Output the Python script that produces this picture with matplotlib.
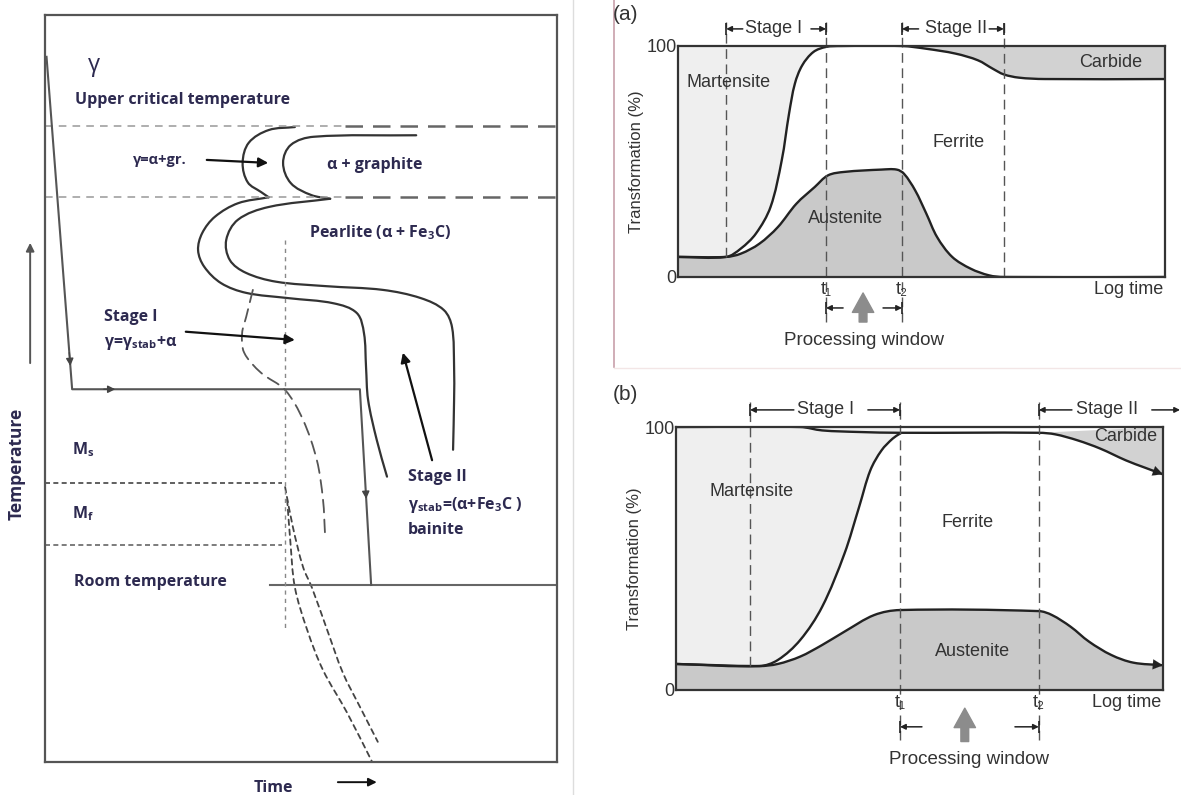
import numpy as np
import matplotlib
matplotlib.use('Agg')
import matplotlib.pyplot as plt
from matplotlib.lines import Line2D
from matplotlib.path import Path
from matplotlib.patches import PathPatch

plt.rcParams['mathtext.fontset'] = 'custom'
plt.rcParams['mathtext.bf'] = 'Open Sans:bold'
plt.rcParams['mathtext.rm'] = 'Open Sans'

# ---------------- left panel data (time 0..100, temperature 0..100) ----------------
T_upper = 85.1
T_eutectoid = 75.6
T_hold = 49.9
T_ms = 37.3
T_mf = 29.0
T_room = 23.7
t_ms_end = 46.3
t_room_start = 43.9
t_dash_split = 58.6

path_t = [0.3, 5.3, 61.5, 63.7]
path_T = [94.4, T_hold, T_hold, T_room]

# outer and inner C-curves; the nose of the graphite C meets the pearlite C in a cusp
outer_t = [48.8, 43.7, 39.8, 38.6, 39.6, 42.2, 43.7, 37.7, 33.2, 30.7, 29.9, 31.1,
           34.4, 39.3, 47.5, 56.4, 60.9, 62.3, 62.7, 63.1, 64.8, 66.8]
outer_T = [85.0, 84.6, 82.9, 80.2, 77.6, 76.3, 75.6, 74.8, 73.0, 70.8, 68.5, 66.3,
           64.1, 62.8, 62.1, 61.4, 60.1, 57.4, 52.9, 48.5, 43.1, 38.2]
inner_t = [72.5, 52.5, 48.0, 46.5, 48.0, 52.0, 55.7, 43.7, 37.7, 35.4, 36.1, 39.2,
           45.1, 54.9, 66.0, 73.4, 77.9, 79.5, 79.9, 79.9, 79.7]
inner_T = [83.9, 83.7, 82.6, 80.2, 77.5, 75.9, 75.4, 74.3, 72.6, 69.9, 67.2, 65.5,
           64.3, 63.7, 63.2, 62.1, 60.5, 58.2, 52.9, 48.5, 41.8]
cusp = 6
bain_t = [40.6, 39.3, 38.5, 38.9, 42.2, 46.9, 50.4, 53.1, 54.3, 54.7]
bain_T = [63.2, 59.6, 57.4, 54.8, 52.1, 49.8, 45.8, 40.4, 35.1, 30.4]
mart1_t = [47.3, 47.9, 48.8, 51.2, 54.3, 59.0, 63.9]
mart1_T = [35.1, 29.7, 23.4, 17.7, 12.3, 6.6, 0.0]
mart2_t = [46.9, 48.4, 50.4, 52.1, 55.1, 58.2, 61.5, 65.0]
mart2_T = [36.8, 31.5, 26.1, 23.4, 17.7, 11.9, 7.4, 2.7]
vdash_t = 46.9
vdash_T = [69.9, 17.7]

# ---------------- right panel (a) data ----------------
a_up_x = [0, 0.99, 1.29, 1.60, 1.90, 2.13, 2.28, 2.40, 2.55, 2.78, 3.04, 3.35,
          4.60, 5.10, 5.70, 6.16, 6.46, 6.69, 7.0, 7.53, 10]
a_up_y = [8.7, 8.7, 12.3, 18.8, 30.3, 50.5, 70.7, 83.7, 91.6, 97.4, 99.6, 100,
          100, 98.8, 96.7, 93.8, 90.2, 87.7, 86.3, 85.7, 85.7]
a_split = 12
a_aus_x = [0, 0.99, 1.29, 1.67, 2.05, 2.43, 2.81, 3.08, 3.42, 4.18, 4.49, 4.64,
           4.87, 5.10, 5.32, 5.63, 6.01, 6.39, 6.69, 10]
a_aus_y = [8.7, 8.7, 10.1, 14.4, 21.6, 31.7, 39.0, 44.0, 45.5, 46.5, 46.5, 44.7,
           37.5, 27.4, 17.3, 8.7, 3.6, 0.7, 0, 0]
a_marks = [0.99, 3.04, 4.60, 6.69]
a_mark_low = [8.7, -19.5, -19.5, 0]

# ---------------- right panel (b) data ----------------
b_top_x = [0, 2.55, 3.0, 3.76, 4.6, 7.45, 7.79, 8.25, 8.71, 9.24, 9.62, 10]
b_top_y = [100, 100, 98.7, 98.1, 97.8, 97.8, 97.2, 94.9, 91.8, 87.3, 84.6, 82.0]
b_split = 5
b_rise_x = [0, 1.71, 2.09, 2.55, 3.0, 3.46, 3.76, 3.99, 4.22, 4.45, 4.6]
b_rise_y = [9.9, 9.1, 11.4, 19.0, 31.6, 51.9, 69.6, 83.5, 91.1, 95.6, 97.5]
b_aus_x = [0, 1.71, 2.09, 2.55, 3.0, 3.46, 4.07, 4.6, 7.45, 7.72, 8.1, 8.48, 8.94, 9.39, 10]
b_aus_y = [9.9, 9.1, 9.9, 12.7, 17.1, 22.2, 28.5, 30.4, 30.0, 28.5, 24.1, 18.4, 13.3, 10.4, 9.4]
b_marks = [1.52, 4.6, 7.45]
b_mark_low = [9.3, -19, -19]

W, H = 1181, 795
fig = plt.figure(figsize=(W / 100, H / 100), dpi=100)


def box(x0, y0, x1, y1):
    # pixel box (top-left origin) -> figure fraction rect
    return [x0 / W, 1 - y1 / H, (x1 - x0) / W, (y1 - y0) / H]


def smooth_path(xs, ys, sx, sy, tail=None):
    # bezier path through the read points (tangents taken in pixel space)
    p = np.column_stack([np.asarray(xs, float) * sx, np.asarray(ys, float) * sy])
    n = len(p)
    tang = np.zeros_like(p)
    for i in range(n):
        v = p[min(i + 1, n - 1)] - p[max(i - 1, 0)]
        l = np.hypot(v[0], v[1])
        tang[i] = v / l if l > 0 else 0
    verts = [p[0]]
    codes = [Path.MOVETO]
    for i in range(n - 1):
        seg = np.hypot(*(p[i + 1] - p[i])) / 3
        verts += [p[i] + tang[i] * seg, p[i + 1] - tang[i + 1] * seg, p[i + 1]]
        codes += [Path.CURVE4] * 3
    verts = list(np.array(verts) / [sx, sy])
    if tail is not None:
        for q in tail:
            verts.append(q)
            codes.append(Path.LINETO)
        verts.append(verts[0])
        codes.append(Path.CLOSEPOLY)
    return Path(verts, codes)


def curve(ax, xs, ys, sc, color='#222', lw=1.7, ls='-'):
    ax.add_patch(PathPatch(smooth_path(xs, ys, *sc), fill=False, edgecolor=color,
                           lw=lw, ls=ls, joinstyle='round', capstyle='round'))


def region(ax, xs, ys, sc, tail, color):
    ax.add_patch(PathPatch(smooth_path(xs, ys, *sc, tail=tail), facecolor=color, lw=0))


NAVY = '#2d2a50'
LFONT = ['Open Sans', 'DejaVu Sans']
RFONT = ['Liberation Sans', 'DejaVu Sans']


def arr(ax, xy, xytext, color='#111', lw=1.6, ms=14, style='-|>'):
    ax.annotate('', xy=xy, xytext=xytext, annotation_clip=False,
                arrowprops=dict(arrowstyle=style, color=color, lw=lw,
                                mutation_scale=ms, shrinkA=0, shrinkB=0))


def seg_arrow(ax, xs, ys, i, f):
    x = xs[i] + f * (xs[i + 1] - xs[i])
    y = ys[i] + f * (ys[i + 1] - ys[i])
    dx, dy = xs[i + 1] - xs[i], ys[i + 1] - ys[i]
    arr(ax, (x, y), (x - 0.04 * dx, y - 0.04 * dy), color='#444', lw=1, ms=11)


# ======================= left panel =======================
axl = fig.add_axes(box(45, 15, 557, 762))
axl.set_xlim(0, 100)
axl.set_ylim(0, 100)
axl.set_xticks([])
axl.set_yticks([])
for s in axl.spines.values():
    s.set_color('#555')
    s.set_linewidth(1.6)
SL = (5.12, 7.47)

for lvl in (T_upper, T_eutectoid):
    axl.plot([0, t_dash_split], [lvl, lvl], color='#999', lw=1.1, ls=(0, (5, 4)))
    axl.plot([t_dash_split, 100], [lvl, lvl], color='#666', lw=1.8, ls=(0, (7, 4)))
axl.plot([0, t_ms_end], [T_ms, T_ms], color='#444', lw=1.2, ls=(0, (3, 2)))
axl.plot([0, t_ms_end], [T_mf, T_mf], color='#666', lw=1.2, ls=(0, (3, 2)))
axl.plot([t_room_start, 100], [T_room, T_room], color='#666', lw=1.5)

axl.plot(path_t, path_T, color='#555', lw=1.5)
seg_arrow(axl, path_t, path_T, 0, 0.93)
seg_arrow(axl, path_t, path_T, 1, 0.15)
seg_arrow(axl, path_t, path_T, 2, 0.56)

curve(axl, outer_t[:cusp + 1], outer_T[:cusp + 1], SL, color='#333', lw=1.6)
curve(axl, outer_t[cusp:], outer_T[cusp:], SL, color='#333', lw=1.6)
curve(axl, inner_t[:cusp + 1], inner_T[:cusp + 1], SL, color='#333', lw=1.6)
curve(axl, inner_t[cusp:], inner_T[cusp:], SL, color='#333', lw=1.6)
curve(axl, bain_t, bain_T, SL, color='#555', lw=1.3, ls=(0, (7, 4)))
curve(axl, mart1_t, mart1_T, SL, color='#444', lw=1.3, ls=(0, (3, 2.5)))
curve(axl, mart2_t, mart2_T, SL, color='#444', lw=1.3, ls=(0, (3, 2.5)))
axl.plot([vdash_t, vdash_t], vdash_T, color='#888', lw=1.0, ls=(0, (3, 3)))

tk = dict(color=NAVY, family=LFONT, fontweight='bold', fontsize=11.5, va='center', ha='left')
axl.text(8.4, 93.3, 'γ', **{**tk, 'fontsize': 17, 'fontweight': 'normal'})
axl.text(5.9, 88.6, 'Upper critical temperature', **tk)
axl.text(17.2, 80.6, 'γ=α+gr.', **{**tk, 'fontsize': 10.5})
arr(axl, (43.6, 80.2), (31.6, 80.6))
axl.text(55.1, 79.9, 'α + graphite', **tk)
axl.text(51.6, 70.9, r'Pearlite (α + Fe$_\mathbf{3}$C)', **tk)
axl.text(11.5, 59.6, 'Stage I', **tk)
axl.text(11.5, 56.1, r'γ=γ$_\mathbf{stab}$+α', **tk)
arr(axl, (48.8, 56.5), (27.5, 57.6))
axl.text(70.9, 38.2, 'Stage II', **tk)
axl.text(70.9, 34.4, r'γ$_\mathbf{stab}$=(α+Fe$_\mathbf{3}$C )', **tk)
axl.text(70.9, 31.1, 'bainite', **tk)
arr(axl, (69.9, 54.8), (75.6, 40.4))
axl.text(5.3, 41.8, r'M$_\mathbf{s}$', **tk)
axl.text(5.3, 33.3, r'M$_\mathbf{f}$', **tk)
axl.text(5.7, 24.1, 'Room temperature', **tk)
axl.text(44.7, -3.5, 'Time', **{**tk, 'ha': 'center'})
arr(axl, (64.8, -2.7), (57.2, -2.7), lw=1.4, ms=12)
axl.text(-5.5, 39.9, 'Temperature', rotation=90, **{**tk, 'ha': 'center', 'fontsize': 12.5})
arr(axl, (-2.9, 69.5), (-2.9, 53.4), color='#555', lw=1.4, ms=12)

# ======================= right panels =======================
MART = '#efefef'
AUS = '#c9c9c9'
CARB = '#d2d2d2'
TXT = '#333333'
rk = dict(color=TXT, family=RFONT, fontsize=13, va='center', ha='center')


def setup(ax):
    ax.set_xlim(0, 10)
    ax.set_ylim(0, 100)
    ax.set_xticks([])
    ax.set_yticks([0, 100])
    ax.set_yticklabels(['0', '100'], family=RFONT, fontsize=13, color=TXT)
    ax.tick_params(axis='y', length=0, pad=1)
    ax.set_ylabel('Transformation (%)', family=RFONT, fontsize=12, color=TXT, labelpad=2)
    for s in ax.spines.values():
        s.set_color('#333')
        s.set_linewidth(1.6)
        s.set_zorder(5)


def stage(ax, y, text, xc, x0, xt0, x1, xt1):
    ax.text(xc, y, text, **rk)
    arr(ax, (x0, y), (xt0, y), color='#222', lw=1.1, ms=8)
    ax.plot([x0], [y], ls='none', marker='|', ms=9, mew=1.2, color='#222', clip_on=False)
    if x1 is not None:
        arr(ax, (x1, y), (xt1, y), color='#222', lw=1.1, ms=8)
        ax.plot([x1], [y], ls='none', marker='|', ms=9, mew=1.2, color='#222', clip_on=False)


def window(ax, y, x0, xt0, x1, xt1, xg, yg0, yg1, yt, tlab_y):
    arr(ax, (x0, y), (xt0, y), color='#222', lw=1.1, ms=8)
    arr(ax, (x1, y), (xt1, y), color='#222', lw=1.1, ms=8)
    ax.plot([x0, x1], [y, y], ls='none', marker='|', ms=9, mew=1.2, color='#222', clip_on=False)
    ax.annotate('', xy=(xg, yg1), xytext=(xg, yg0), annotation_clip=False,
                arrowprops=dict(arrowstyle='simple,head_width=1.1,head_length=1.0,tail_width=0.4',
                                color='#8c8c8c', mutation_scale=14, shrinkA=0, shrinkB=0))
    ax.text((x0 + x1) / 2, yt, 'Processing window', **{**rk, 'fontsize': 13.5})
    ax.text(x0, tlab_y, 't₁', **rk)
    ax.text(x1, tlab_y, 't₂', **rk)
    ax.text(9.96, tlab_y, 'Log time', **{**rk, 'ha': 'right'})


# ---- (a) ----
axa = fig.add_axes(box(678, 46, 1165, 277))
setup(axa)
SA = (48.7, 2.31)
region(axa, a_up_x[:a_split], a_up_y[:a_split], SA, [(a_up_x[a_split - 1], 100), (0, 100)], MART)
region(axa, a_up_x[a_split:], a_up_y[a_split:], SA, [(10, 100)], CARB)
region(axa, a_aus_x, a_aus_y, SA, [(10, 0), (0, 0)], AUS)
curve(axa, a_up_x, a_up_y, SA)
curve(axa, a_aus_x, a_aus_y, SA)
for xm, lo in zip(a_marks, a_mark_low):
    axa.plot([xm, xm], [lo, 110.4], color='#555', lw=1.0, ls=(0, (7, 4)), clip_on=False)
axa.text(0.18, 84.4, 'Martensite', **{**rk, 'ha': 'left'})
axa.text(5.77, 58.4, 'Ferrite', **rk)
axa.text(3.45, 25.5, 'Austenite', **rk)
axa.text(8.89, 93.0, 'Carbide', **rk)
stage(axa, 107.4, 'Stage I', 1.97, a_marks[0], 1.33, a_marks[1], 2.73)
stage(axa, 107.4, 'Stage II', 5.70, a_marks[2], 4.94, a_marks[3], 6.39)
window(axa, -13.4, a_marks[1], 3.39, a_marks[2], 4.21, 3.80, -19.5, -6.9, -27.3, -5.6)
fig.text(613 / W, 1 - 15 / H, '(a)', family=RFONT, fontsize=15, color=TXT, va='center')

# ---- (b) ----
axb = fig.add_axes(box(676, 427, 1163, 690))
setup(axb)
SB = (48.7, 2.63)
region(axb, b_rise_x, b_rise_y, SB, [(b_rise_x[-1], 100), (0, 100)], MART)
region(axb, b_top_x[b_split:], b_top_y[b_split:], SB, [(10, 100)], CARB)
region(axb, b_aus_x, b_aus_y, SB, [(10, 0), (0, 0)], AUS)
curve(axb, b_top_x, b_top_y, SB)
curve(axb, b_rise_x, b_rise_y, SB)
curve(axb, b_aus_x, b_aus_y, SB)
for xs, ys in ((b_top_x, b_top_y), (b_aus_x, b_aus_y)):
    arr(axb, (xs[-1], ys[-1]), (xs[-2], ys[-2]), color='#222', lw=0.1, ms=18)
for xm, lo in zip(b_marks, b_mark_low):
    axb.plot([xm, xm], [lo, 109.6], color='#555', lw=1.0, ls=(0, (7, 4)), clip_on=False)
axb.text(1.56, 75.4, 'Martensite', **rk)
axb.text(5.98, 63.5, 'Ferrite', **rk)
axb.text(6.08, 14.6, 'Austenite', **rk)
axb.text(9.24, 96.3, 'Carbide', **rk)
stage(axb, 106.5, 'Stage I', 3.08, b_marks[0], 2.42, b_marks[1], 3.94)
stage(axb, 106.5, 'Stage II', 8.85, b_marks[2], 8.13, None, None)
arr(axb, (10.35, 106.5), (9.77, 106.5), color='#222', lw=1.1, ms=8)
window(axb, -14, b_marks[1], 5.05, b_marks[2], 6.96, 5.93, -19.6, -6.9, -26.6, -4.6)
fig.text(613 / W, 1 - 395 / H, '(b)', family=RFONT, fontsize=15, color=TXT, va='center')

# panel separators
fig.add_artist(Line2D([573 / W, 573 / W], [0, 1], color='#dddddd', lw=1))
fig.add_artist(Line2D([614 / W, 614 / W], [1, 1 - 367 / H], color='#c8a0aa', lw=1.2))
fig.add_artist(Line2D([614 / W, 1], [1 - 368 / H, 1 - 368 / H], color='#f3e6e6', lw=1))

fig.savefig('out.png', dpi=100)
